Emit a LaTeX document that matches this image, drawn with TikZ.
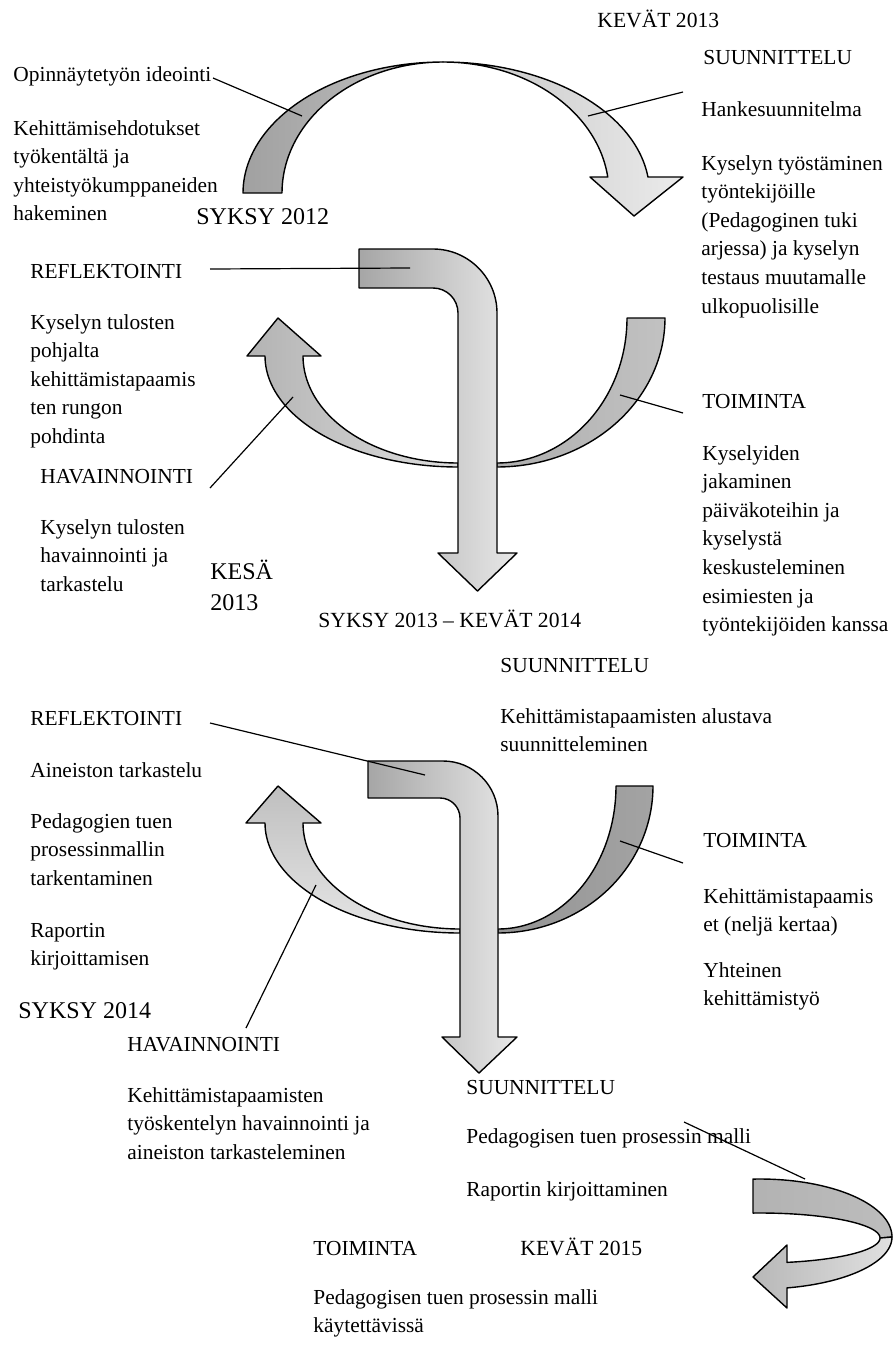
\documentclass[tikz,border=0pt]{standalone}
\usepackage{fontspec}
\setmainfont{Liberation Serif}
\newcommand{\ml}[1]{\vtop{\baselineskip=14.3pt\lineskiplimit=-20pt\halign{##\hfil\cr#1\crcr}}}
\tikzset{
  txt/.style={anchor=base west, inner sep=0pt, font=\fontsize{10.7pt}{14.3pt}\selectfont},
  big/.style={anchor=base west, inner sep=0pt, font=\fontsize{12pt}{15.5pt}\selectfont},
  mid/.style={anchor=base west, inner sep=0pt, font=\fontsize{10.8pt}{14.3pt}\selectfont},
  ribbon/.style={draw=black, line width=0.7pt, line join=round},
  conn/.style={draw=black, line width=0.6pt},
  darkband/.style={ribbon, left color=black!37, right color=black!24},
  lightband/.style={ribbon, left color=black!23, right color=black!8},
  bentfill/.style={ribbon, left color=black!35, right color=black!9},
}
\begin{document}
\begin{tikzpicture}[x=0.5pt,y=-0.5pt]
\useasboundingbox (0,0) rectangle (894,1354);

% ---------- top arc ----------
\shadedraw[darkband] plot[domain=180:270, samples=50, variable=\t] ({443+200*cos(\t)},{193+131*sin(\t)})
  -- plot[domain=270:180, samples=50, variable=\t] ({443+161*cos(\t)},{193+131*sin(\t)}) -- cycle;
\shadedraw[lightband] plot[domain=270:353, samples=50, variable=\t] ({443+206.5*cos(\t)},{193+131*sin(\t)})
  -- (683,177) -- (634,216) -- (590,177)
  -- plot[domain=353:270, samples=50, variable=\t] ({443+166*cos(\t)},{193+131*sin(\t)}) -- cycle;

% ---------- first cycle ----------
\shadedraw[ribbon, left color=black!30, right color=black!13] plot[domain=90:180, samples=50, variable=\t] ({458+193*cos(\t)},{356+111*sin(\t)})
  -- (247,356) -- (278,318) -- (321,356)
  -- plot[domain=180:90, samples=50, variable=\t] ({458+155*cos(\t)},{356+107*sin(\t)}) -- cycle;
\shadedraw[ribbon, left color=black!32, right color=black!24] plot[domain=0:90, samples=50, variable=\t] ({497+168*cos(\t)},{318+149*sin(\t)})
  -- plot[domain=90:0, samples=50, variable=\t] ({497+130*cos(\t)},{318+145*sin(\t)}) -- cycle;
\shadedraw[bentfill] (359,249) -- (433,249) .. controls (468.3,249) and (497,277.7) .. (497,313)
  -- (497,553) -- (517,553) -- (477.5,591) -- (438,553) -- (458,553) -- (458,313)
  .. controls (458,299.2) and (446.8,288) .. (433,288) -- (359,288) -- cycle;

% ---------- second cycle ----------
\shadedraw[ribbon, top color=black!25, bottom color=black!10] plot[domain=90:180, samples=50, variable=\t] ({460+195*cos(\t)},{823+110*sin(\t)})
  -- (246,823) -- (278,786) -- (321,823)
  -- plot[domain=180:90, samples=50, variable=\t] ({460+157*cos(\t)},{823+106*sin(\t)}) -- cycle;
\shadedraw[ribbon, left color=black!42, right color=black!36] plot[domain=0:90, samples=50, variable=\t] ({498+155*cos(\t)},{786+147*sin(\t)})
  -- plot[domain=90:0, samples=50, variable=\t] ({498+118*cos(\t)},{786+143*sin(\t)}) -- cycle;
\shadedraw[bentfill] (368,761) -- (443,761) .. controls (473.4,761) and (498,785.6) .. (498,816)
  -- (498,1037) -- (517,1037) -- (479,1073) -- (442,1037) -- (460,1037) -- (460,818)
  .. controls (460,807) and (451,798) .. (440,798) -- (368,798) -- cycle;

% ---------- bottom loop ----------
\shadedraw[ribbon, left color=black!30, right color=black!26] (753,1179) -- (753,1213)
  -- plot[domain=266.7:360, samples=50, variable=\t] ({760+120*cos(\t)},{1238+25*sin(\t)})
  -- plot[domain=360:267, samples=50, variable=\t] ({760+132*cos(\t)},{1237+58*sin(\t)}) -- cycle;
\shadedraw[ribbon, left color=black!28, right color=black!12] plot[domain=0:77, samples=50, variable=\t] ({760+120*cos(\t)},{1238+25*sin(\t)})
  -- (787,1245) -- (753,1277) -- (787,1308)
  -- plot[domain=78.2:0, samples=50, variable=\t] ({760+132*cos(\t)},{1237+52*sin(\t)}) -- cycle;

% ---------- texts ----------
\node[mid] (kevat13) at (597,28) {KEVÄT 2013};
\node[txt] (ideointi) at (13,82) {Opinnäytetyön ideointi};
\node[txt] (kehehd) at (13,135) {\ml{Kehittämisehdotukset\cr työkentältä ja\cr yhteistyökumppaneiden\cr hakeminen}};
\node[big] (syksy12) at (196,224) {SYKSY 2012};
\node[txt] (suun1) at (703,65) {SUUNNITTELU};
\node[txt] (hanke) at (701,117) {Hankesuunnitelma};
\node[txt] (kysely1) at (701,170) {\ml{Kyselyn työstäminen\cr työntekijöille\cr (Pedagoginen tuki\cr arjessa) ja kyselyn\cr testaus muutamalle\cr ulkopuolisille}};

\node[txt] (refl1) at (30,278) {REFLEKTOINTI};
\node[txt] (refl1t) at (30,329) {\ml{Kyselyn tulosten\cr pohjalta\cr kehittämistapaamis\cr ten rungon\cr pohdinta}};
\node[txt] (hav1) at (40,483) {HAVAINNOINTI};
\node[txt] (hav1t) at (40,534) {\ml{Kyselyn tulosten\cr havainnointi ja\cr tarkastelu}};
\node[big] (kesa13) at (210,579) {\vtop{\baselineskip=15.5pt\halign{#\hfil\cr KESÄ\cr 2013\crcr}}};
\node[txt] (toim1) at (702,408) {TOIMINTA};
\node[txt] (toim1t) at (702,460) {\ml{Kyselyiden\cr jakaminen\cr päiväkoteihin ja\cr kyselystä\cr keskusteleminen\cr esimiesten ja\cr työntekijöiden kanssa}};
\node[mid] (syksy13) at (318,627) {SYKSY 2013 – KEVÄT 2014};

\node[txt] (suun2) at (500,672) {SUUNNITTELU};
\node[txt] (suun2t) at (500,723) {\ml{Kehittämistapaamisten alustava\cr suunnitteleminen}};
\node[txt] (refl2) at (30,725) {REFLEKTOINTI};
\node[txt] (aineisto) at (30,777) {Aineiston tarkastelu};
\node[txt] (pedtuen) at (30,828) {\ml{Pedagogien tuen\cr prosessinmallin\cr tarkentaminen}};
\node[txt] (raportin) at (30,937) {\ml{Raportin\cr kirjoittamisen}};
\node[big] (syksy14) at (18,1018) {SYKSY 2014};
\node[txt] (toim2) at (703,847) {TOIMINTA};
\node[txt] (toim2t) at (703,903) {\ml{Kehittämistapaamis\cr et (neljä kertaa)}};
\node[txt] (yhteinen) at (703,977) {\ml{Yhteinen\cr kehittämistyö}};
\node[txt] (hav2) at (127,1051) {HAVAINNOINTI};
\node[txt] (hav2t) at (127,1102) {\ml{Kehittämistapaamisten\cr työskentelyn havainnointi ja\cr aineiston tarkasteleminen}};
\node[txt] (suun3) at (466,1094) {SUUNNITTELU};
\node[txt] (malli) at (466,1143) {Pedagogisen tuen prosessin malli};
\node[txt] (rapkirj) at (466,1196) {Raportin kirjoittaminen};
\node[txt] (toim3) at (313,1255) {TOIMINTA};
\node[mid] (kevat15) at (520,1255) {KEVÄT 2015};
\node[txt] (malli2) at (313,1304) {\ml{Pedagogisen tuen prosessin malli\cr käytettävissä}};

% ---------- connectors ----------
\coordinate (c1a) at (213,78);  \coordinate (c1b) at (302,116);
\coordinate (c2a) at (588,116); \coordinate (c2b) at (683,92);
\coordinate (c3a) at (210,269); \coordinate (c3b) at (410,268);
\coordinate (c4a) at (210,488); \coordinate (c4b) at (293,397);
\coordinate (c5a) at (620,395); \coordinate (c5b) at (683,413);
\coordinate (c6a) at (210,723); \coordinate (c6b) at (425,775);
\coordinate (c7a) at (316,885); \coordinate (c7b) at (246,1028);
\coordinate (c8a) at (620,841); \coordinate (c8b) at (683,863);
\coordinate (c9a) at (684,1122); \coordinate (c9b) at (805,1179);
\draw[conn] (c1a) -- (c1b);
\draw[conn] (c2a) -- (c2b);
\draw[conn] (c3a) -- (c3b);
\draw[conn] (c4a) -- (c4b);
\draw[conn] (c5a) -- (c5b);
\draw[conn] (c6a) -- (c6b);
\draw[conn] (c7a) -- (c7b);
\draw[conn] (c8a) -- (c8b);
\draw[conn] (c9a) -- (c9b);
\end{tikzpicture}
\end{document}
